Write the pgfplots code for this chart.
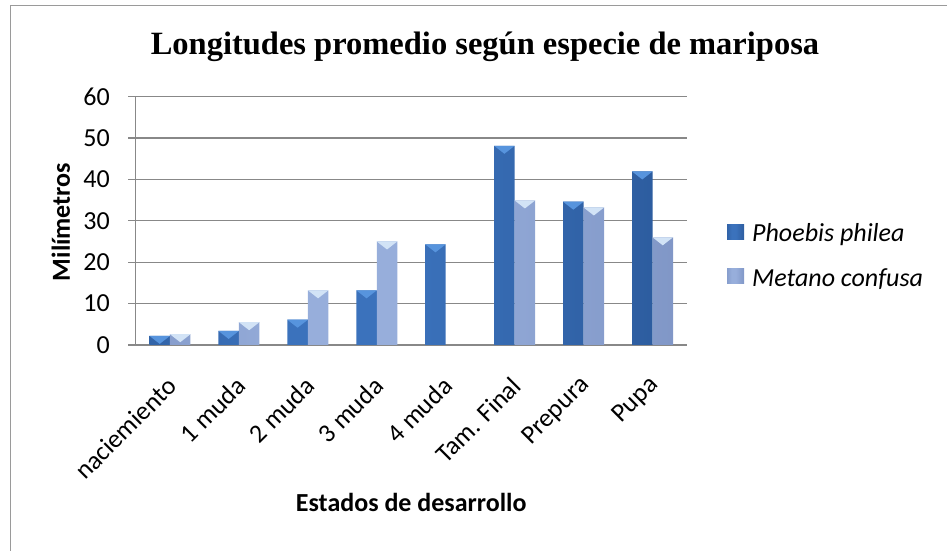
\documentclass[border=0pt]{standalone}
\usepackage{pgfplots}
\pgfplotsset{compat=1.18}
\usepackage{fontspec}
\setmainfont{Carlito}
\newfontfamily\titlefont{Liberation Serif}

\definecolor{gridgray}{HTML}{888888}
\definecolor{framegray}{HTML}{9A9A9A}
\definecolor{dkEdge}{HTML}{1F4883}
\definecolor{dkMid}{HTML}{3B72BC}
\definecolor{ltEdge}{HTML}{6A80B3}
\definecolor{ltMid}{HTML}{97AEDB}
\definecolor{dkTri}{HTML}{5794DD}
\definecolor{ltTri}{HTML}{D2E3F6}

\pgfdeclarehorizontalshading{dkbar}{100bp}{color(0bp)=(dkEdge); color(38bp)=(dkMid); color(50bp)=(dkMid); color(100bp)=(dkEdge)}
\pgfdeclarehorizontalshading{ltbar}{100bp}{color(0bp)=(ltEdge); color(38bp)=(ltMid); color(50bp)=(ltMid); color(100bp)=(ltEdge)}

\pgfdeclareplotmark{dtri}{%
  \pgfpathmoveto{\pgfqpoint{-10.25pt}{0pt}}%
  \pgfpathlineto{\pgfqpoint{10.25pt}{0pt}}%
  \pgfpathlineto{\pgfqpoint{0pt}{-8pt}}%
  \pgfpathclose\pgfusepathqfill}

\newcommand{\tsize}{\fontsize{26}{31}\selectfont}

\pgfplotstableread{
x P M
0 2.2 2.6
1 3.4 5.5
2 6.1 13.2
3 13.2 25.0
4 24.3 nan
5 48.1 34.9
6 34.6 33.2
7 41.9 26.0
}\datatable

\begin{document}
\begin{tikzpicture}[x=1pt,y=1pt]
\useasboundingbox (0,0) rectangle (947,551);
\draw[framegray, line width=1.3pt] (10.7,-5) -- (10.7,545.3) -- (960,545.3);
\node[font=\titlefont\bfseries\fontsize{32.5}{38}\selectfont, anchor=base] at (485,496) {Longitudes promedio según especie de mariposa};
\begin{axis}[
  at={(135.5pt,206pt)}, anchor=south west,
  scale only axis, width=551.5pt, height=248.5pt,
  xmin=-0.5, xmax=7.5, ymin=0, ymax=60,
  bar width=20.5pt,
  xtick={0,...,7},
  xticklabels={naciemiento,1 muda,2 muda,3 muda,4 muda,Tam. Final,Prepura,Pupa},
  ytick={0,10,...,60},
  /pgf/number format/assume math mode=true,
  axis lines*=left,
  axis line style={gridgray, line width=1.3pt},
  ymajorgrids, major grid style={gridgray, line width=1.3pt},
  tick align=outside, major tick length=7.5pt,
  ytick style={gridgray, line width=1.3pt},
  xtick style={draw=none},
  tick label style={font=\tsize, black},
  yticklabel style={inner sep=0pt, anchor=east, xshift=-18pt},
  xticklabel style={rotate=45, anchor=east, inner sep=0pt, yshift=-22pt, xshift=-19pt},
  label style={font=\bfseries\tsize},
  xlabel={Estados de desarrollo},
  xlabel style={at={(axis description cs:0.5,-0.672)}, anchor=base},
  ylabel={Milímetros},
  ylabel style={at={(axis description cs:-0.1188,0.495)}, anchor=base},
  legend style={at={(axis description cs:1.0725,0.352)}, anchor=west, draw=none, fill=none,
    font=\itshape\tsize, row sep=19.5pt, inner sep=0pt,
    nodes={inner sep=0pt, text height=19pt, text depth=6pt},
    /tikz/every odd column/.append style={column sep=8pt}},
  legend cell align=left,
  clip=false,
]
\addplot[ybar, bar shift=-10.25pt, draw=none, shade, shading=dkbar,
  legend image code/.code={\path[shade, shading=dkbar] (0pt,-4pt) rectangle (17pt,11pt);}]
  table[x=x, y=P] {\datatable};
\addlegendentry{Phoebis philea}
\addplot[ybar, bar shift=10.25pt, draw=none, shade, shading=ltbar,
  legend image code/.code={\path[shade, shading=ltbar] (0pt,-4pt) rectangle (17pt,11pt);}]
  table[x=x, y=M] {\datatable};
\addlegendentry{Metano confusa}
\addplot[only marks, mark=dtri, mark options={fill=dkTri, draw=none}, xshift=-10.25pt, forget plot]
  table[x=x, y=P] {\datatable};
\addplot[only marks, mark=dtri, mark options={fill=ltTri, draw=none}, xshift=10.25pt, forget plot]
  table[x=x, y=M] {\datatable};
\end{axis}
\end{tikzpicture}
\end{document}
